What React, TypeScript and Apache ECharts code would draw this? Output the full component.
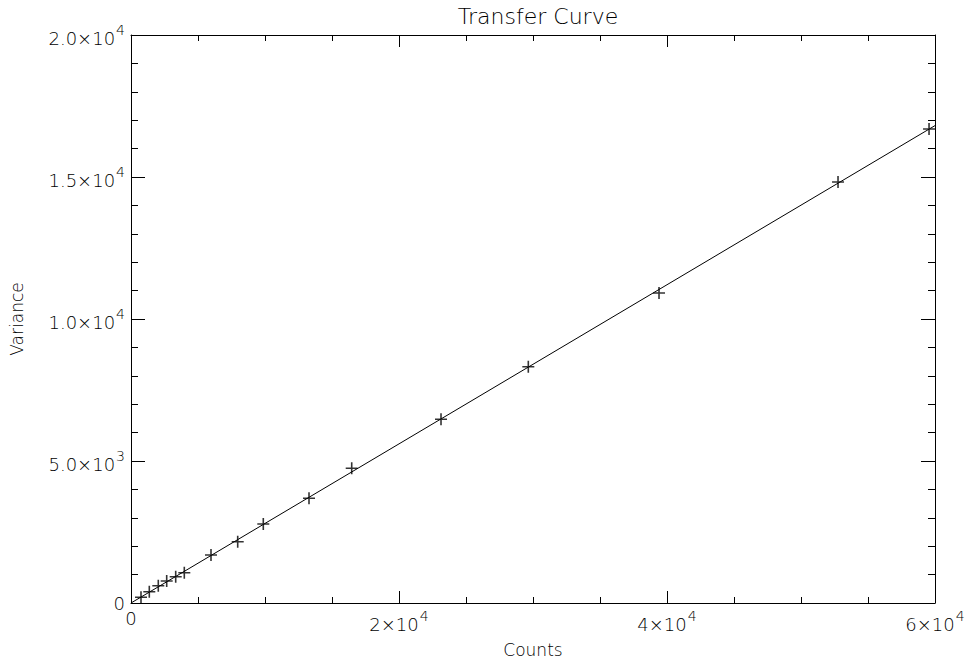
import React, { useEffect, useRef } from "react";
import * as echarts from "echarts";

const countsValues = [746, 1366, 2037, 2664, 3336, 3978, 5970, 7963, 9873, 13284, 16471, 23135, 29650, 39404, 52763, 59555];
const varianceValues = [201, 398, 609, 775, 926, 1067, 1690, 2158, 2782, 3687, 4743, 6468, 8320, 10915, 14824, 16690];
const fitLine: [number, number][] = [[0, 0], [60000, 16810]];
const xTickValues = [0, 20000, 40000, 60000];
const xTickMantissa = ["0", "2×10", "4×10", "6×10"];
const xTickExponent = ["", "4", "4", "4"];
const yTickValues = [0, 5000, 10000, 15000, 20000];
const yTickMantissa = ["0", "5.0×10", "1.0×10", "1.5×10", "2.0×10"];
const yTickExponent = ["", "3", "4", "4", "4"];

const FONT = "'DejaVu Sans', 'Liberation Sans', sans-serif";
const INK = "#000";
const W = 200;

const rich = {
  m: { fontSize: 18, fontFamily: FONT, fontWeight: W, color: INK, verticalAlign: "bottom" as const },
  s: { fontSize: 14, fontFamily: FONT, fontWeight: W, color: INK, verticalAlign: "top" as const, padding: [0, 0, 10, 1] },
};

function fmt(values: number[], mant: string[], exp: string[]) {
  return (v: number) => {
    const i = values.indexOf(v);
    if (i < 0) return "";
    return exp[i] ? `{m|${mant[i]}}{s|${exp[i]}}` : `{m|${mant[i]}}`;
  };
}

export default function App() {
  const ref = useRef<HTMLDivElement>(null);
  useEffect(() => {
    if (!ref.current) return;
    const chart = echarts.init(ref.current, null, { renderer: "svg" });
    const axisLine = { show: true, onZero: false, lineStyle: { color: INK, width: 1 } };
    const tickX = { show: true, inside: true, length: 12, lineStyle: { color: INK, width: 1 } };
    const minorX = { show: true, splitNumber: 4, length: 6, lineStyle: { color: INK, width: 1 } };
    const tickY = { show: true, inside: true, length: 14, lineStyle: { color: INK, width: 1 } };
    const minorY = { show: true, splitNumber: 5, length: 7, lineStyle: { color: INK, width: 1 } };
    chart.setOption({
      animation: false,
      backgroundColor: "#fff",
      title: {
        text: "Transfer Curve",
        left: 533,
        top: 0,
        textAlign: "center",
        textStyle: { fontFamily: FONT, fontSize: 22, fontWeight: W, color: INK },
      },
      grid: { left: 131, right: 33, top: 35, bottom: 60 },
      xAxis: [
        {
          type: "value",
          min: 0,
          max: 60000,
          interval: 20000,
          name: "Counts",
          nameLocation: "middle",
          nameGap: 38,
          nameTextStyle: { fontFamily: FONT, fontSize: 17, fontWeight: W, color: INK },
          axisLine,
          axisTick: tickX,
          minorTick: minorX,
          splitLine: { show: false },
          axisLabel: { margin: 6, formatter: fmt(xTickValues, xTickMantissa, xTickExponent), rich },
        },
        {
          type: "value",
          position: "top",
          min: 0,
          max: 60000,
          interval: 20000,
          axisLine,
          axisTick: tickX,
          minorTick: minorX,
          splitLine: { show: false },
          axisLabel: { show: false },
        },
      ],
      yAxis: [
        {
          type: "value",
          min: 0,
          max: 20000,
          interval: 5000,
          name: "Variance",
          nameLocation: "middle",
          nameGap: 106,
          nameTextStyle: { fontFamily: FONT, fontSize: 17, fontWeight: W, color: INK },
          axisLine,
          axisTick: tickY,
          minorTick: minorY,
          splitLine: { show: false },
          axisLabel: { margin: 6, formatter: fmt(yTickValues, yTickMantissa, yTickExponent), rich },
        },
        {
          type: "value",
          position: "right",
          min: 0,
          max: 20000,
          interval: 5000,
          axisLine,
          axisTick: tickY,
          minorTick: minorY,
          splitLine: { show: false },
          axisLabel: { show: false },
        },
      ],
      series: [
        {
          type: "line",
          data: fitLine,
          showSymbol: false,
          lineStyle: { color: INK, width: 1 },
          silent: true,
        },
        {
          type: "scatter",
          data: countsValues.map((c, i) => [c, varianceValues[i]]),
          symbol: "path://M0,-5L0,5M-5,0L5,0",
          symbolSize: 12,
          itemStyle: { color: "none", borderColor: INK, borderWidth: 1.6 },
        },
      ],
    });
    return () => chart.dispose();
  }, []);
  return <div ref={ref} style={{ position: "fixed", left: 0, top: 0, width: 968, height: 663 }} />;
}
